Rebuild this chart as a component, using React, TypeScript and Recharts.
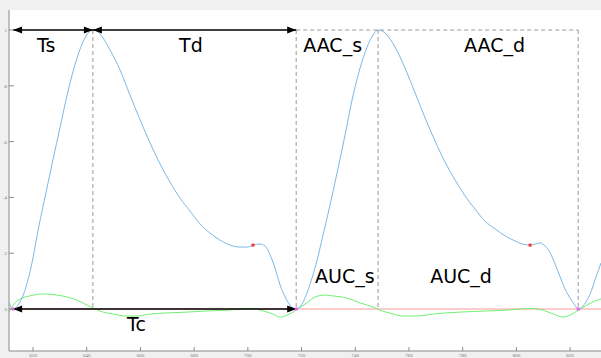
import {
  ComposedChart,
  Line,
  Scatter,
  XAxis,
  YAxis,
  CartesianGrid,
  ReferenceLine,
  ReferenceDot,
} from "recharts";

// pulse wave (normalised amplitude): [time, amplitude]
const ppgSamples: [number, number][] = [
  [611.1, 0.022], [612.6, 0], [614.4, 0.014], [615.9, 0.039], [617.8, 0.093],
  [620.0, 0.183], [621.9, 0.283], [623.7, 0.366], [625.6, 0.452], [627.4, 0.534],
  [630.1, 0.652], [632.7, 0.767], [635.6, 0.875], [638.6, 0.957], [640.9, 0.993],
  [642.3, 1.0], [643.8, 0.996], [646.1, 0.971], [648.7, 0.928], [652.4, 0.857],
  [656.1, 0.767], [659.9, 0.677], [663.6, 0.595], [667.3, 0.52], [671.0, 0.455],
  [674.7, 0.398], [678.5, 0.351], [682.2, 0.305], [685.9, 0.272], [689.6, 0.247],
  [693.4, 0.229], [697.1, 0.222], [699.7, 0.222], [701.9, 0.229], [704.5, 0.233],
  [706.4, 0.226], [708.3, 0.194], [710.1, 0.147], [712.0, 0.086], [713.9, 0.043],
  [715.7, 0.014], [718.0, 0], [719.4, 0.007], [722.0, 0.057], [723.9, 0.111],
  [725.8, 0.176], [728.0, 0.265], [730.6, 0.373], [733.2, 0.487], [736.2, 0.624],
  [738.8, 0.749], [741.8, 0.864], [744.4, 0.939], [746.6, 0.982], [748.5, 1.0],
  [751.1, 0.989], [754.8, 0.939], [758.5, 0.864], [762.3, 0.774], [766.0, 0.685],
  [769.7, 0.602], [773.4, 0.527], [777.2, 0.462], [780.9, 0.405], [784.6, 0.358],
  [788.3, 0.315], [792.1, 0.287], [795.8, 0.262], [799.5, 0.244], [802.1, 0.233],
  [805.1, 0.229], [807.0, 0.233], [808.8, 0.237], [810.7, 0.226], [812.6, 0.201],
  [814.4, 0.161], [816.3, 0.115], [818.1, 0.072], [820.0, 0.039], [821.5, 0.018],
  [823.0, 0], [824.5, 0.007], [826.0, 0.027], [827.5, 0.055], [829.3, 0.105],
  [831.5, 0.165],
];

// derivative trace (green)
const dppgSamples: [number, number][] = [
  [611.1, -0.011], [612.6, 0.014], [615.2, 0.036], [618.9, 0.047], [623.7, 0.054],
  [628.9, 0.05], [632.7, 0.043], [636.4, 0.032], [640.1, 0.014], [642.3, 0.004],
  [646.1, -0.011], [649.8, -0.018], [654.3, -0.025], [658.7, -0.025], [663.6, -0.018],
  [669.9, -0.014], [677.4, -0.011], [684.8, -0.007], [692.3, -0.004], [697.1, 0],
  [701.9, 0.002], [705.7, -0.007], [709.4, -0.018], [712.0, -0.029], [714.6, -0.022],
  [716.8, -0.011], [719.1, 0.004], [722.0, 0.022], [725.0, 0.043], [728.8, 0.05],
  [731.7, 0.047], [737.0, 0.039], [741.8, 0.022], [746.6, 0.007], [749.2, -0.004],
  [754.1, -0.018], [757.8, -0.025], [763.0, -0.025], [769.0, -0.018], [779.0, -0.011],
  [789.1, -0.007], [796.5, -0.004], [801.4, 0], [806.2, 0.002], [809.9, -0.004],
  [813.7, -0.018], [817.4, -0.029], [820.0, -0.022], [823.0, -0.004], [826.3, 0.014],
  [829.3, 0.029], [831.5, 0.036],
];

const notchPoints: [number, number][] = [[701.9, 0.229], [805.1, 0.229]];
const footPoints: [number, number][] = [[612.6, 0], [718.0, 0], [823.0, 0]];
const peakTimes = [642.3, 748.5];

const xTicks = [620, 640, 660, 680, 700, 720, 740, 760, 780, 800, 820];
const yTicks = [0, 0.2, 0.4, 0.6, 0.8, 1];
const yTickLabels = ["0", ".2", ".4", ".6", ".8", "1"];

// annotation text: [label, time, amplitude] (left edge / baseline)
const labels: [string, number, number][] = [
  ["Ts", 621.5, 0.921],
  ["Td", 674.4, 0.921],
  ["AAC_s", 720.6, 0.921],
  ["AAC_d", 780.5, 0.921],
  ["AUC_s", 725.0, 0.093],
  ["AUC_d", 767.9, 0.093],
  ["Tc", 655.0, -0.079],
];

const toRows = (pts: [number, number][]) => pts.map(([t, v]) => ({ t, v }));

const AXIS = "#8a8a8a";

// eslint-disable-next-line @typescript-eslint/no-explicit-any
function XTick({ x, y, payload }: any) {
  return (
    <g>
      <line x1={x} x2={x} y1={y} y2={y - 4} stroke={AXIS} />
      <text x={x} y={y + 6} textAnchor="middle" fontSize={5} fill="#777">
        {payload.value}
      </text>
    </g>
  );
}

// eslint-disable-next-line @typescript-eslint/no-explicit-any
function YTick({ x, y, payload }: any) {
  const i = yTicks.indexOf(payload.value);
  return (
    <g>
      <line x1={x} x2={x + 5} y1={y} y2={y} stroke={AXIS} />
      <text x={x - 2} y={y + 2} textAnchor="end" fontSize={5} fill="#777">
        {yTickLabels[i]}
      </text>
    </g>
  );
}

// eslint-disable-next-line @typescript-eslint/no-explicit-any
function Arrow({ x1, y1, x2, y2 }: any) {
  const L = 9;
  const W = 3.5;
  const d = x2 > x1 ? 1 : -1;
  return (
    <g>
      <line x1={x1} y1={y1} x2={x2} y2={y2} stroke="#000" strokeWidth={1.3} />
      <polygon points={`${x1},${y1} ${x1 + d * L},${y1 - W} ${x1 + d * L},${y1 + W}`} fill="#000" />
      <polygon points={`${x2},${y2} ${x2 - d * L},${y2 - W} ${x2 - d * L},${y2 + W}`} fill="#000" />
    </g>
  );
}

// eslint-disable-next-line @typescript-eslint/no-explicit-any
const square = (color: string) => (p: any) => (
  <rect x={p.cx - 1.5} y={p.cy - 1.5} width={3} height={3} fill={color} />
);

export default function App() {
  const [foot0, foot1, foot2] = footPoints.map((f) => f[0]);
  const [peak0, peak1] = peakTimes;
  const dash = { stroke: "#9a9a9a", strokeDasharray: "4 3", strokeWidth: 1 };

  return (
    <div
      style={{
        position: "absolute",
        left: 0,
        top: 0,
        width: 601,
        height: 358,
        background: "#f0f0f0",
        overflow: "hidden",
      }}
    >
      <ComposedChart width={601} height={358} margin={{ top: 10, right: 0, bottom: 0, left: 0 }}>
        <CartesianGrid horizontal={false} vertical={false} fill="#ffffff" />
        <XAxis
          type="number"
          dataKey="t"
          domain={[611.06, 831.5]}
          allowDataOverflow
          ticks={xTicks}
          interval={0}
          height={7}
          tickSize={0}
          tickMargin={0}
          tickLine={false}
          stroke={AXIS}
          tick={<XTick />}
        />
        <YAxis
          type="number"
          dataKey="v"
          domain={[-0.1505, 1.0717]}
          allowDataOverflow
          ticks={yTicks}
          interval={0}
          width={9}
          tickSize={0}
          tickMargin={0}
          tickLine={false}
          stroke={AXIS}
          tick={<YTick />}
        />
        <ReferenceLine y={0} stroke="#ff9a9a" strokeWidth={1.2} />
        <Line
          data={toRows(dppgSamples)}
          dataKey="v"
          type="monotone"
          stroke="#72f072"
          strokeWidth={1}
          dot={false}
          isAnimationActive={false}
        />
        <Line
          data={toRows(ppgSamples)}
          dataKey="v"
          type="monotone"
          stroke="#7ab8e6"
          strokeWidth={1}
          dot={false}
          isAnimationActive={false}
        />
        <Scatter data={toRows(notchPoints)} dataKey="v" shape={square("#ff3030")} isAnimationActive={false} />
        <Scatter data={toRows(footPoints)} dataKey="v" shape={square("#e860e8")} isAnimationActive={false} />

        <ReferenceLine segment={[{ x: peak0, y: 1 }, { x: peak0, y: 0 }]} {...dash} />
        <ReferenceLine segment={[{ x: foot1, y: 1 }, { x: foot1, y: 0 }]} {...dash} />
        <ReferenceLine segment={[{ x: peak1, y: 1 }, { x: peak1, y: 0 }]} {...dash} />
        <ReferenceLine segment={[{ x: foot2, y: 1 }, { x: foot2, y: 0 }]} {...dash} />
        <ReferenceLine segment={[{ x: foot1, y: 1 }, { x: foot2, y: 1 }]} {...dash} />

        <ReferenceLine segment={[{ x: foot0, y: 1 }, { x: peak0, y: 1 }]} shape={Arrow} />
        <ReferenceLine segment={[{ x: peak0, y: 1 }, { x: foot1, y: 1 }]} shape={Arrow} />
        <ReferenceLine segment={[{ x: foot0, y: 0 }, { x: foot1, y: 0 }]} shape={Arrow} />

        {labels.map(([text, t, v]) => (
          <ReferenceDot
            key={text}
            x={t}
            y={v}
            r={0}
            // eslint-disable-next-line @typescript-eslint/no-explicit-any
            shape={(p: any) => (
              <text x={p.cx} y={p.cy} fontSize={19} fontFamily="DejaVu Sans" fill="#000">
                {text}
              </text>
            )}
          />
        ))}
      </ComposedChart>
    </div>
  );
}
